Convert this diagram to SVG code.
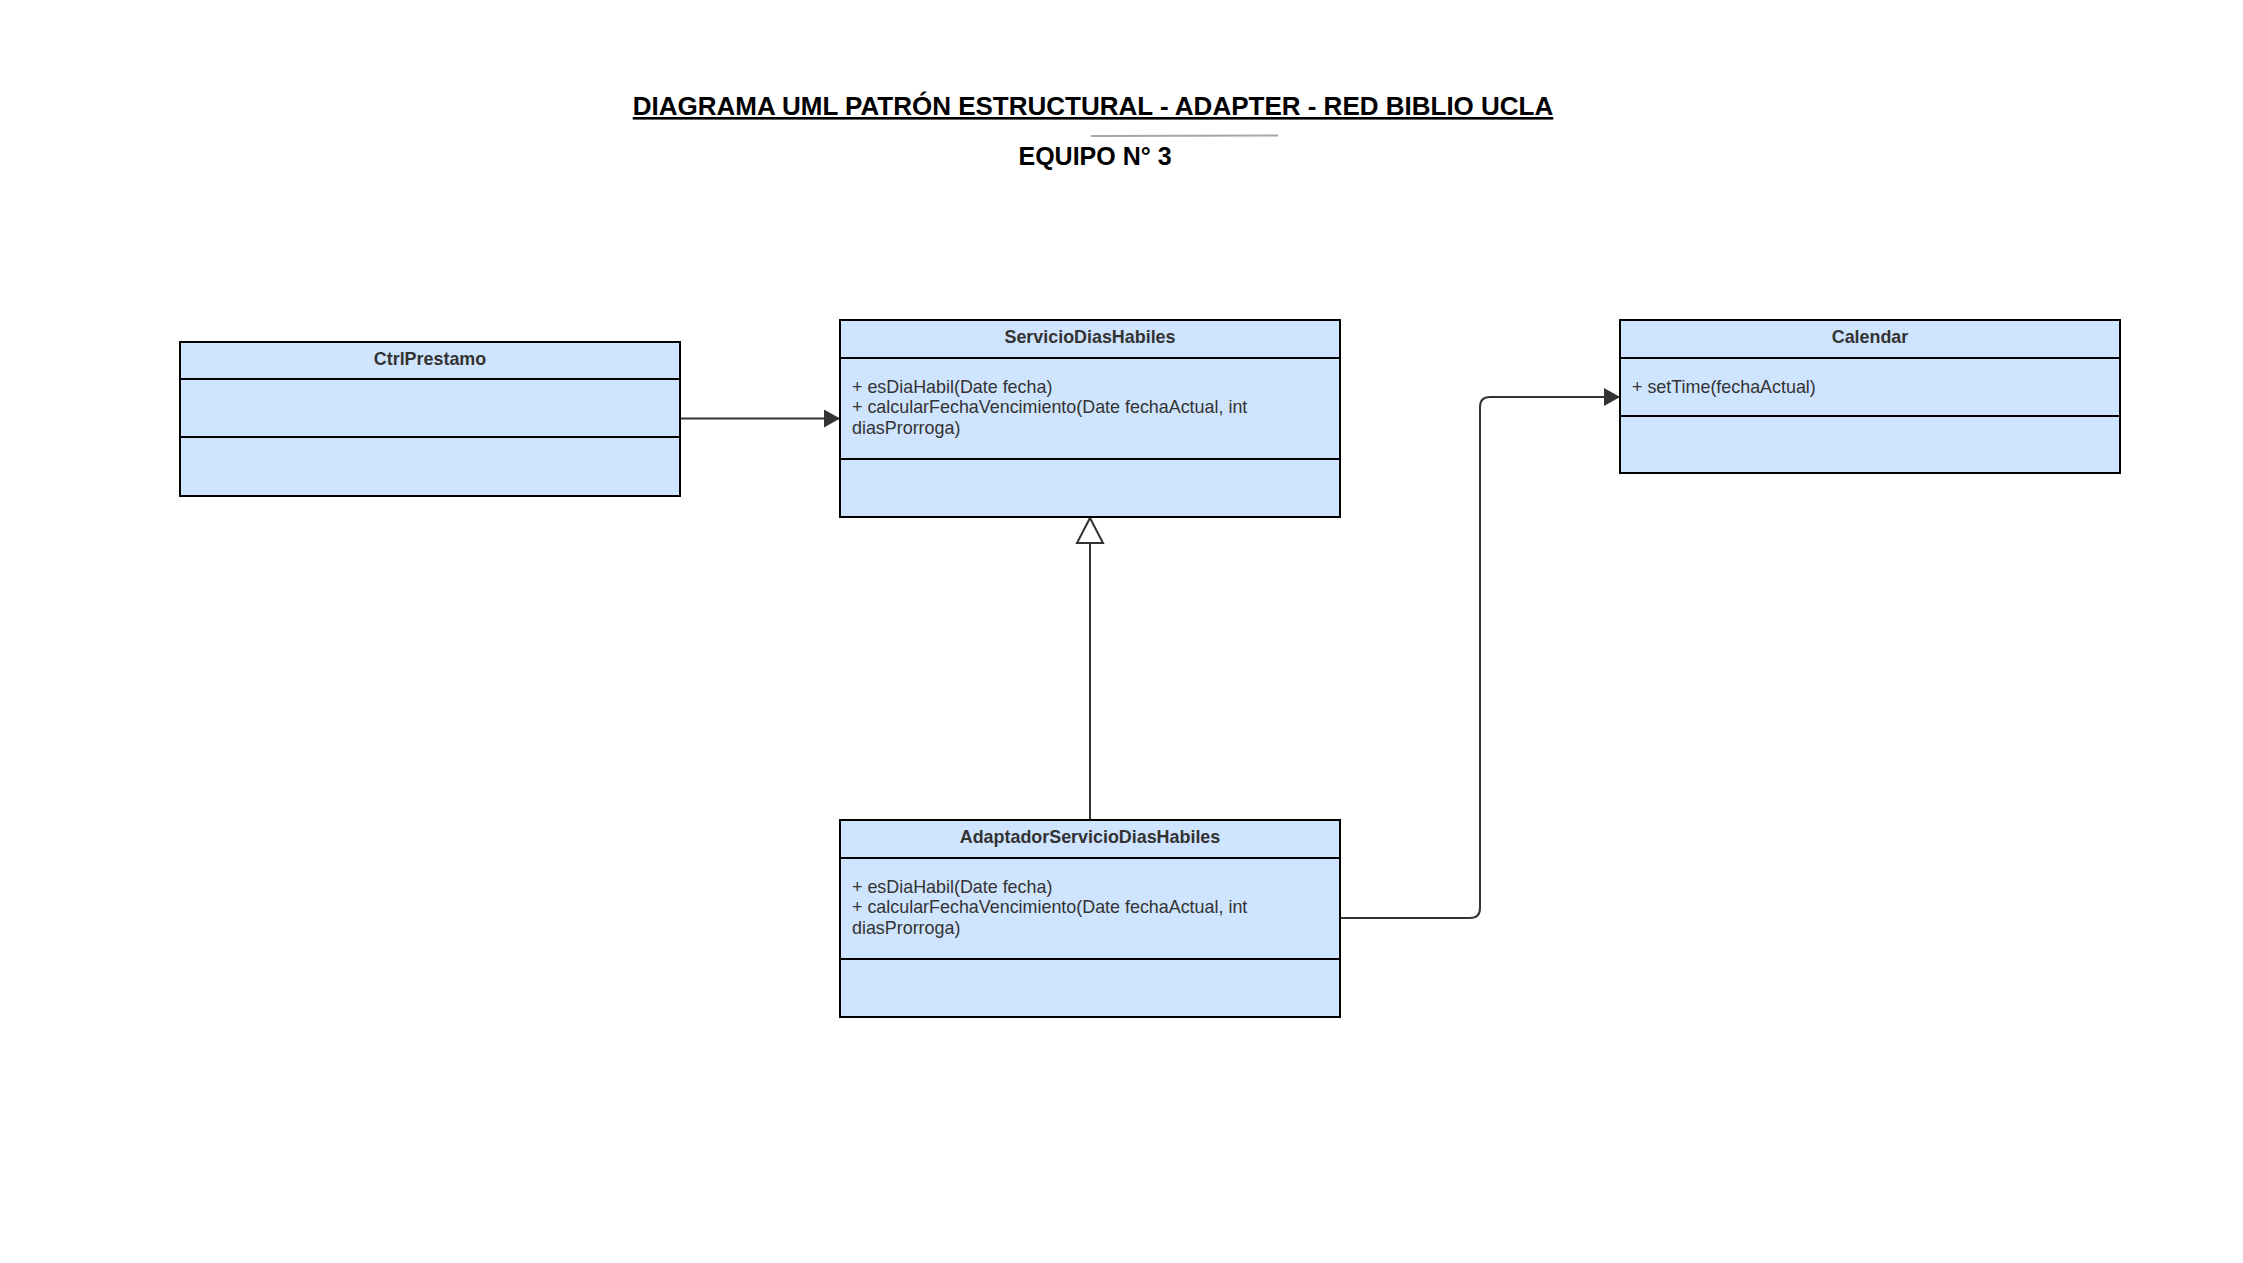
<svg xmlns="http://www.w3.org/2000/svg" width="2243" height="1263" viewBox="0 0 2243 1263">
<style>
.box{fill:#cfe4ff;stroke:#000;stroke-width:2}
.sep{stroke:#000;stroke-width:2}
.name{font-family:"Liberation Sans",Arial,sans-serif;font-weight:bold;font-size:17.9px;fill:#333;text-anchor:middle}
.m{font-family:"Liberation Sans",Arial,sans-serif;font-size:17.9px;fill:#333}
.conn{fill:none;stroke:#333;stroke-width:2}
.title{font-family:"Liberation Sans",Arial,sans-serif;font-weight:bold;font-size:26px;fill:#000;text-anchor:middle}
</style>
<defs>
<marker id="arr" markerUnits="userSpaceOnUse" markerWidth="16" markerHeight="18" viewBox="0 0 16 18" refX="16" refY="9" orient="auto"><path d="M0,0 L16,9 L0,18 z" fill="#333"/></marker>
</defs>
<rect width="2243" height="1263" fill="#fff"/>
<g id="title">
<text class="title" x="1093" y="115" text-decoration="underline">DIAGRAMA UML PATRÓN ESTRUCTURAL - ADAPTER - RED BIBLIO UCLA</text>
<line x1="1091" y1="136" x2="1278" y2="135.5" stroke="#a3a7ae" stroke-width="2"/>
<text class="title" x="1095" y="164.5" style="font-size:25px">EQUIPO N° 3</text>
</g>
<g id="connectors">
<path class="conn" d="M680 418.5 H840" marker-end="url(#arr)"/>
<path class="conn" d="M1090 820 V543"/>
<path d="M1090 518 L1103 543 L1077 543 z" fill="#fff" stroke="#333" stroke-width="2"/>
<path class="conn" d="M1340 918 H1470 Q1480 918 1480 908 V407 Q1480 397 1490 397 H1620" marker-end="url(#arr)"/>
</g>
<g id="CtrlPrestamo">
<rect class="box" x="180" y="342" width="500" height="154"/>
<line class="sep" x1="180" y1="379" x2="680" y2="379"/>
<line class="sep" x1="180" y1="437" x2="680" y2="437"/>
<text class="name" x="430" y="365">CtrlPrestamo</text>
</g>
<g id="ServicioDiasHabiles">
<rect class="box" x="840" y="320" width="500" height="197"/>
<line class="sep" x1="840" y1="358" x2="1340" y2="358"/>
<line class="sep" x1="840" y1="459" x2="1340" y2="459"/>
<text class="name" x="1090" y="343">ServicioDiasHabiles</text>
<text class="m" x="852" y="392.5">+ esDiaHabil(Date fecha)</text>
<text class="m" x="852" y="413">+ calcularFechaVencimiento(Date fechaActual, int</text>
<text class="m" x="852" y="433.5">diasProrroga)</text>
</g>
<g id="Calendar">
<rect class="box" x="1620" y="320" width="500" height="153"/>
<line class="sep" x1="1620" y1="358" x2="2120" y2="358"/>
<line class="sep" x1="1620" y1="416" x2="2120" y2="416"/>
<text class="name" x="1870" y="343">Calendar</text>
<text class="m" x="1632" y="392.5">+ setTime(fechaActual)</text>
</g>
<g id="AdaptadorServicioDiasHabiles">
<rect class="box" x="840" y="820" width="500" height="197"/>
<line class="sep" x1="840" y1="858" x2="1340" y2="858"/>
<line class="sep" x1="840" y1="959" x2="1340" y2="959"/>
<text class="name" x="1090" y="843">AdaptadorServicioDiasHabiles</text>
<text class="m" x="852" y="892.5">+ esDiaHabil(Date fecha)</text>
<text class="m" x="852" y="913">+ calcularFechaVencimiento(Date fechaActual, int</text>
<text class="m" x="852" y="933.5">diasProrroga)</text>
</g>
</svg>
